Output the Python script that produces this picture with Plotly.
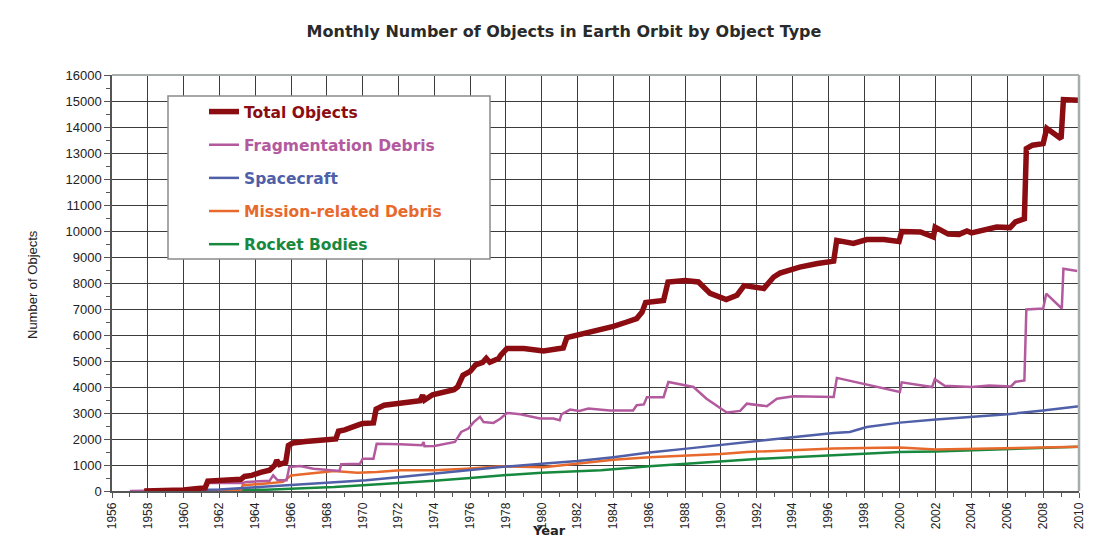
import plotly.graph_objects as go

# ---------------- data ----------------
total_years = [1957.8, 1959.0, 1960.0, 1960.8, 1961.2, 1961.35, 1962.0, 1962.5, 1963.2, 1963.4,
               1963.8, 1964.3, 1964.8, 1965.1, 1965.2, 1965.35, 1965.7, 1965.85, 1966.1, 1966.8,
               1967.5, 1968.5, 1968.65, 1969.0, 1969.8, 1970.0, 1970.6, 1970.75, 1971.2, 1971.8,
               1972.3, 1973.0, 1973.2, 1973.35, 1973.45, 1973.9, 1974.5, 1975.1, 1975.3, 1975.6,
               1976.0, 1976.3, 1976.7, 1976.9, 1977.1, 1977.6, 1977.7, 1978.05, 1979.0, 1980.1,
               1980.9, 1981.2, 1981.4, 1982.5, 1983.3, 1984.0, 1984.75, 1985.3, 1985.6, 1985.8,
               1986.8, 1987.05, 1988.0, 1988.75, 1989.4, 1990.3, 1990.9, 1991.3, 1992.4, 1992.95,
               1993.3, 1994.4, 1995.4, 1996.3, 1996.47, 1997.4, 1998.15, 1999.1, 1999.95, 2000.1,
               2001.15, 2001.87, 2001.97, 2002.7, 2003.3, 2003.74, 2004.0, 2004.7, 2005.4, 2006.15,
               2006.45, 2006.95, 2007.06, 2007.4, 2008.0, 2008.2, 2009.0, 2009.13, 2009.97]
total_values = [0, 10, 40, 100, 120, 380, 400, 430, 450, 560,
                600, 720, 800, 1000, 1180, 1020, 1100, 1750, 1850, 1900,
                1950, 2000, 2300, 2350, 2550, 2600, 2620, 3150, 3300, 3350,
                3420, 3450, 3470, 3680, 3500, 3700, 3780, 3900, 4000, 4450,
                4600, 4850, 4950, 5100, 4950, 5100, 5220, 5480, 5480, 5390,
                5470, 5500, 5900, 6080, 6180, 6330, 6500, 6630, 6880, 7250,
                7330, 8040, 8100, 8040, 7600, 7360, 7530, 7900, 7790, 8230,
                8380, 8610, 8750, 8840, 9640, 9520, 9670, 9670, 9600, 9980,
                9960, 9770, 10150, 9880, 9870, 10000, 9930, 10060, 10150, 10130,
                10350, 10470, 13170, 13300, 13360, 13950, 13550, 15050, 15030]

frag_years = [1957.0, 1961.1, 1961.37, 1963.3, 1963.5, 1964.8, 1965.0, 1965.25, 1965.75, 1965.9,
              1966.5, 1967.25, 1968.7, 1968.8, 1969.85, 1970.0, 1970.6, 1970.78, 1972.1, 1973.3,
              1973.4, 1973.45, 1974.0, 1975.15, 1975.5, 1975.9, 1976.2, 1976.55, 1976.75, 1977.3,
              1977.68, 1978.05, 1978.8, 1979.9, 1980.65, 1981.0, 1981.1, 1981.58, 1982.1, 1982.6,
              1983.8, 1985.1, 1985.3, 1985.7, 1985.87, 1986.8, 1987.07, 1987.9, 1988.47, 1989.2,
              1990.33, 1991.08, 1991.45, 1992.57, 1993.13, 1994.06, 1996.3, 1996.48, 1997.97, 2000.0,
              2000.1, 2001.8, 2001.95, 2002.5, 2004.0, 2005.0, 2006.2, 2006.45, 2006.95, 2007.06,
              2008.0, 2008.17, 2009.04, 2009.13, 2009.9]
frag_values = [0, 50, 310, 310, 350, 390, 600, 410, 410, 920,
               960, 860, 770, 1030, 1050, 1240, 1240, 1820, 1800, 1760,
               1880, 1720, 1730, 1890, 2270, 2400, 2650, 2850, 2650, 2620,
               2780, 3000, 2950, 2790, 2790, 2720, 2950, 3130, 3080, 3170,
               3100, 3100, 3300, 3330, 3610, 3610, 4190, 4070, 4000, 3550,
               3020, 3080, 3360, 3260, 3550, 3640, 3620, 4350, 4130, 3810,
               4180, 4000, 4300, 4050, 4000, 4060, 4020, 4200, 4250, 6980,
               7020, 7590, 7020, 8550, 8460]

sc_years = [1957.8, 1960, 1962, 1964, 1966, 1968.4, 1970.2, 1972.1, 1974, 1975.8,
            1977.7, 1980, 1982, 1984, 1986, 1988.1, 1990, 1992.2, 1994, 1996.3,
            1997.2, 1998.15, 2000, 2002, 2004, 2006, 2008, 2010]
sc_values = [0, 20, 60, 140, 230, 345, 410, 540, 670, 800,
             920, 1050, 1150, 1300, 1480, 1630, 1780, 1950, 2070, 2230,
             2270, 2460, 2630, 2750, 2850, 2950, 3100, 3260]

mrd_years = [1957.8, 1961.1, 1963.2, 1963.3, 1964.6, 1965.55, 1966.0, 1967.25, 1968.4, 1969.7,
             1970.8, 1972.1, 1974, 1975.8, 1977.7, 1980.1, 1982, 1984, 1986, 1988.1,
             1990, 1991.45, 1994, 1996.3, 1998, 2000, 2002, 2004, 2006, 2008, 2010]
mrd_values = [0, 0, 30, 220, 290, 350, 600, 690, 770, 700,
              730, 800, 800, 860, 950, 910, 1050, 1200, 1300, 1370,
              1420, 1500, 1580, 1630, 1650, 1670, 1600, 1620, 1650, 1660, 1700]

rb_years = [1957.8, 1960, 1962, 1964.6, 1966, 1968.4, 1970, 1972.1, 1974, 1976,
            1977.7, 1980, 1983.3, 1986, 1988.1, 1990, 1992.2, 1994, 1996.3, 1998,
            2000, 2002, 2004, 2006, 2008, 2010]
rb_values = [0, 10, 25, 50, 90, 150, 220, 300, 390, 500,
             600, 700, 800, 950, 1050, 1130, 1240, 1300, 1370, 1450,
             1500, 1520, 1560, 1600, 1650, 1700]

year_ticks = list(range(1956, 2011, 2))

series_names = ["Total Objects", "Fragmentation Debris", "Spacecraft",
                "Mission-related Debris", "Rocket Bodies"]
series_colors = ["#8b0d12", "#b35a9e", "#4f5fa8", "#e8692c", "#17893f"]

# ---------------- figure ----------------
# The page body has an 8px margin, so the figure is sized to fit inside it.
OFF = 8
W, H = 1093 - 2 * OFF, 548 - 2 * OFF
ML, MT = 112 - OFF, 75 - OFF
PW, PH = 967, 416
MR, MB = W - ML - PW, H - MT - PH


def px(sx):   # screenshot x -> paper x
    return (sx - 112) / PW


def py(sy):   # screenshot y -> paper y
    return (491 - sy) / PH


FONT = "Arial, Liberation Sans, sans-serif"
WIDE = "DejaVu Sans, Verdana, sans-serif"
NARROW = "Liberation Sans Narrow, Arial Narrow, Liberation Sans, sans-serif"

fig = go.Figure()
data = [(total_years, total_values, 5.5), (frag_years, frag_values, 2.5),
        (sc_years, sc_values, 2.5), (mrd_years, mrd_values, 2.5), (rb_years, rb_values, 2.5)]
for i in reversed(range(5)):
    xs, ys, lw = data[i]
    fig.add_trace(go.Scatter(
        x=xs, y=ys, mode="lines",
        line=dict(color=series_colors[i], width=lw),
        name="<b><span style='color:%s'>%s</span></b>" % (series_colors[i], series_names[i]),
        legendrank=i + 1, legendgroup="g%d" % i,
    ))

grid_col = "#3c3c3c"
fig.update_layout(
    width=W, height=H,
    margin=dict(l=ML, r=MR, t=MT, b=MB, autoexpand=False),
    paper_bgcolor="white", plot_bgcolor="white",
    font=dict(family=FONT, color="#222"),
    title=dict(text="<b>Monthly Number of Objects in Earth Orbit by Object Type</b>",
               x=(564 - OFF) / W, xanchor="center",
               y=1 - (31 - OFF) / H, yanchor="middle",
               font=dict(family=WIDE, size=16, color="#2a2a2a")),
    xaxis=dict(range=[1956, 2010.0001], tickmode="array", tickvals=year_ticks,
               ticktext=[str(y) for y in year_ticks], tickangle=-90,
               ticklabeloverflow="allow",
               ticks="outside", ticklen=5, tickcolor="#555", tickwidth=1.3,
               showline=True, linecolor="#555", linewidth=1.5,
               showgrid=True, gridcolor=grid_col, gridwidth=1.3,
               zeroline=False,
               minor=dict(dtick=1, tick0=1956, ticks="outside", ticklen=4,
                          tickcolor="#555", showgrid=False),
               tickfont=dict(family=FONT, size=12, color="#222")),
    yaxis=dict(range=[0, 16000], dtick=1000, tick0=0, tickformat="d",
               ticks="outside", ticklen=6, tickcolor="#555", tickwidth=1.3,
               showline=True, linecolor="#555", linewidth=1.5,
               showgrid=True, gridcolor=grid_col, gridwidth=1.3,
               zeroline=False,
               minor=dict(dtick=500, ticks="outside", ticklen=4,
                          tickcolor="#555", showgrid=False),
               tickfont=dict(family=FONT, size=13, color="#222")),
    legend=dict(x=px(204), xanchor="left", y=py(95), yanchor="top",
                bgcolor="rgba(0,0,0,0)", borderwidth=0,
                font=dict(family=WIDE, size=15.5),
                traceorder="grouped", tracegroupgap=10, itemwidth=30),
    showlegend=True,
)

# legend frame and plot border (top/right)
fig.add_shape(type="rect", xref="paper", yref="paper",
              x0=px(168), x1=px(490), y0=py(259), y1=py(96),
              fillcolor="white", line=dict(color="#8a8a8a", width=1.5), layer="above")
fig.add_shape(type="line", xref="paper", yref="paper", x0=0, x1=1, y0=1, y1=1,
              line=dict(color="#a7adad", width=2))
fig.add_shape(type="line", xref="paper", yref="paper", x0=1, x1=1, y0=0, y1=1,
              line=dict(color="#a7adad", width=2.5))

# axis titles
fig.add_annotation(text="<b>Year</b>", xref="paper", yref="paper",
                   x=px(549), y=py(539), xanchor="center", yanchor="bottom",
                   borderpad=0, showarrow=False,
                   font=dict(family=WIDE, size=13, color="#222"))
fig.add_annotation(text="Number of Objects", xref="paper", yref="paper",
                   x=px(32), y=py(285), xanchor="center", yanchor="middle",
                   textangle=-90, showarrow=False,
                   font=dict(family=NARROW, size=13, color="#222"))

fig.write_html("out.html")
